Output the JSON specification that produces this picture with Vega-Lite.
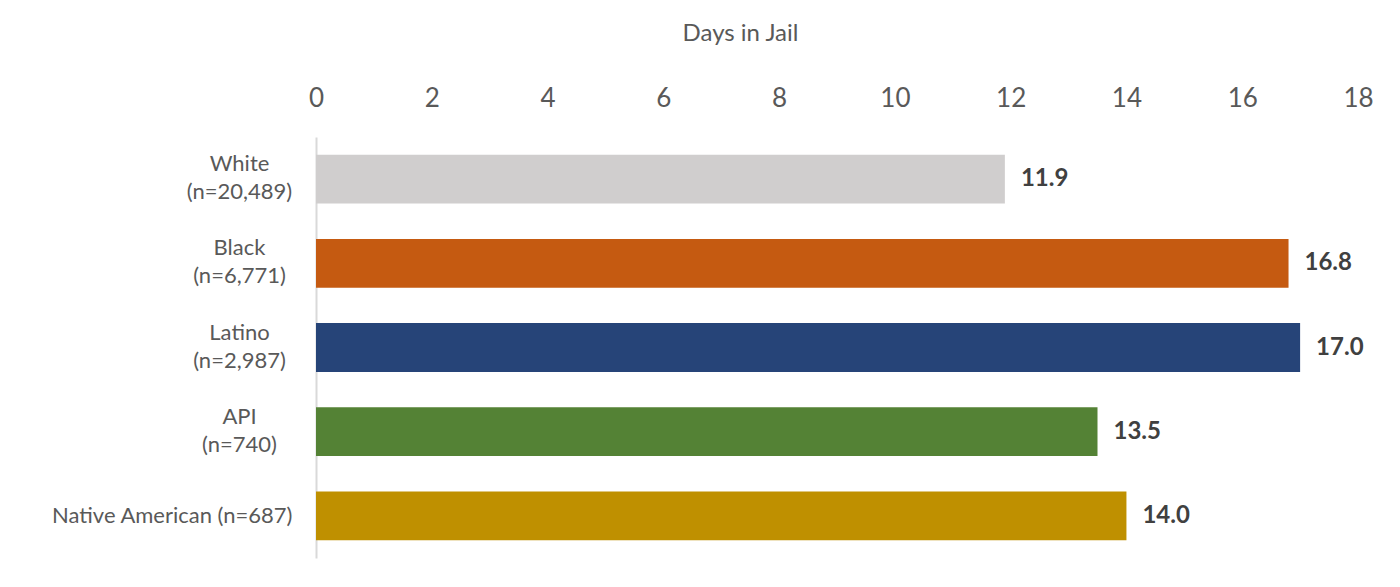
{
  "$schema": "https://vega.github.io/schema/vega-lite/v6.json",
  "width": 1042,
  "height": 421,
  "autosize": {"type": "none"},
  "padding": {"left": 316, "top": 137, "right": 42, "bottom": 29},
  "background": "white",
  "config": {"view": {"stroke": null}, "font": "Lato"},
  "data": {
    "values": [
      {"group": "White|(n=20,489)", "days": 11.9},
      {"group": "Black|(n=6,771)", "days": 16.8},
      {"group": "Latino|(n=2,987)", "days": 17.0},
      {"group": "API|(n=740)", "days": 13.5},
      {"group": "Native American (n=687)", "days": 14.0}
    ]
  },
  "encoding": {
    "y": {
      "field": "group",
      "type": "nominal",
      "sort": null,
      "scale": {"paddingInner": 0.42, "paddingOuter": 0.21},
      "axis": {
        "title": null,
        "ticks": false,
        "tickSize": 0,
        "domainColor": "#D9D9D9",
        "domainWidth": 2,
        "labelExpr": "split(datum.value, '|')",
        "labelFontSize": 22,
        "labelColor": "#595959",
        "labelLineHeight": 28,
        "labelBaseline": "middle",
        "labelAlign": {"condition": {"test": "datum.value == 'Native American (n=687)'", "value": "right"}, "value": "center"},
        "labelPadding": {"condition": {"test": "datum.value == 'Native American (n=687)'", "value": 24}, "value": 77},
        "labelOffset": {"condition": {"test": "datum.value == 'Native American (n=687)'", "value": 0}, "value": -15},
        "labelLimit": 400
      }
    },
    "x": {
      "field": "days",
      "type": "quantitative",
      "scale": {"domain": [0, 18], "nice": false},
      "axis": {
        "orient": "top",
        "values": [0, 2, 4, 6, 8, 10, 12, 14, 16, 18],
        "grid": false,
        "domain": false,
        "ticks": false,
        "tickSize": 0,
        "labelFontSize": 26,
        "labelColor": "#595959",
        "labelPadding": 26,
        "labelFlush": false,
        "title": "Days in Jail",
        "titleFontSize": 24,
        "titleFontWeight": "normal",
        "titleColor": "#595959",
        "titlePadding": 40,
        "titleX": 424
      }
    }
  },
  "layer": [
    {
      "mark": {"type": "bar"},
      "encoding": {
        "color": {
          "field": "group",
          "type": "nominal",
          "legend": null,
          "scale": {
            "domain": ["White|(n=20,489)", "Black|(n=6,771)", "Latino|(n=2,987)", "API|(n=740)", "Native American (n=687)"],
            "range": ["#D0CECE", "#C55A11", "#264478", "#548235", "#BF9000"]
          }
        }
      }
    },
    {
      "mark": {"type": "text", "align": "left", "baseline": "middle", "dx": 16, "fontSize": 24, "fontWeight": "bold", "color": "#404040"},
      "encoding": {
        "text": {"field": "days", "type": "quantitative", "format": ".1f"}
      }
    }
  ]
}
